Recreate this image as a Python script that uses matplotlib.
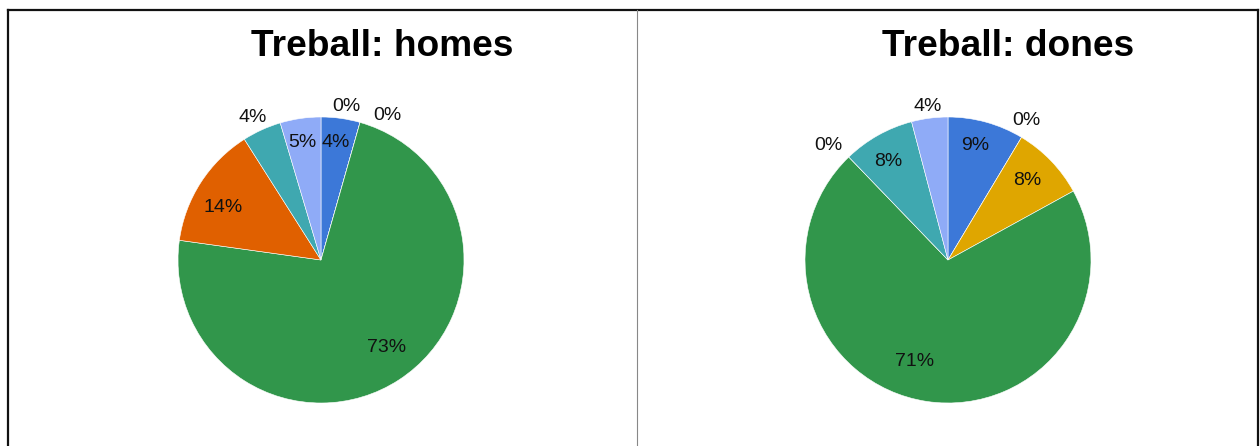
import numpy as np
import matplotlib
matplotlib.use("Agg")
import matplotlib.pyplot as plt
from matplotlib.lines import Line2D

plt.rcParams["font.family"] = ["Liberation Sans", "DejaVu Sans"]

# categories share one colour each across both pies (Sheets default palette order)
categories = ["cat1", "cat2", "cat3", "cat4", "cat5", "cat6", "cat7"]
colors = ["#3c78d8", "#db4437", "#dfa600", "#31964b", "#e06000", "#3fa8b0", "#8fabf7"]

# shares in percent
homes = [4.4, 0.0, 0.0, 72.8, 13.8, 4.4, 4.6]
dones = [8.6, 0.0, 8.4, 70.8, 0.0, 8.1, 4.1]

titles = ["Treball: homes", "Treball: dones"]

# label placement: radius (fraction of pie radius) and clockwise angle nudge
homes_lab_r = [0.83, 1.09, 1.115, 0.76, 0.776, 1.105, 0.83]
homes_lab_da = [-1.0, -6.3, 8.8, -3.7, -4.5, -1.0, -0.7]
dones_lab_r = [0.82, 1.12, 0.785, 0.75, 1.16, 0.81, 1.08]
dones_lab_da = [-2.2, -1.6, -1.0, 9.8, -2.3, -2.0, 0.0]

W, H = 1260, 446
fig = plt.figure(figsize=(W / 100, H / 100), dpi=100)
fig.patch.set_facecolor("white")

R = 143.0                 # pie radius, px
S = R * 2.5               # pie() sets limits to +-1.25
centers = [(321, 260), (948, 260)]
title_x = [382, 1008]


def draw_pie(cx, cy, vals, lab_r, lab_da):
    ax = fig.add_axes([(cx - S / 2) / W, (H - cy - S / 2) / H, S / W, S / H])
    wedges, _ = ax.pie(vals, colors=colors, startangle=90, counterclock=False,
                       wedgeprops=dict(edgecolor="white", linewidth=0.4))
    for w, v, r, da in zip(wedges, vals, lab_r, lab_da):
        mid = np.deg2rad((w.theta1 + w.theta2) / 2 - da)
        ax.text(r * np.cos(mid), r * np.sin(mid), f"{v:.0f}%",
                ha="center", va="center", fontsize=14, color="#111111")
    return ax


for (cx, cy), vals, lr, lda in zip(centers, [homes, dones],
                                   [homes_lab_r, dones_lab_r],
                                   [homes_lab_da, dones_lab_da]):
    draw_pie(cx, cy, vals, lr, lda)

for tx, t in zip(title_x, titles):
    fig.text(tx / W, 1 - 46 / H, t, ha="center", va="center",
             fontsize=26.7, fontweight="bold", color="black")


# outer frame (open at the bottom) and the centre divider, in pixel units
def fline(xs, ys, color, lw):
    fig.add_artist(Line2D([x / W for x in xs], [1 - y / H for y in ys],
                          color=color, linewidth=lw, transform=fig.transFigure))


fline([8, 1257.5], [9.5, 9.5], "#111111", 1.6)
fline([8.3, 8.3], [9.5, 446], "#111111", 1.6)
fline([1257.8, 1257.8], [9.5, 446], "#111111", 1.6)
fline([636.5, 636.5], [10, 446], "#888888", 0.8)

fig.savefig("out.png", dpi=100, facecolor="white")
